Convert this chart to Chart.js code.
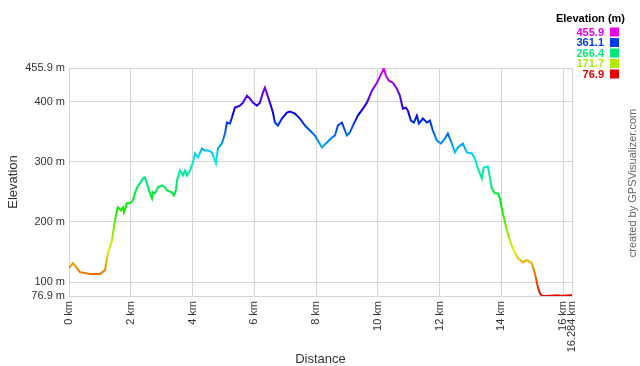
<!DOCTYPE html>
<html>
<head>
<meta charset="utf-8">
<script src="https://cdn.jsdelivr.net/npm/chart.js@4/dist/chart.umd.min.js"></script>
<style>
html,body{margin:0;padding:0;background:#fff;}
#wrap{width:640px;height:366px;position:relative;}
</style>
</head>
<body>
<div id="wrap"><canvas id="c" width="640" height="366"></canvas></div>
<script>
const distanceKm = [0,0.129,0.356,0.680,1.003,1.165,1.262,1.392,1.489,1.553,1.586,1.683,1.748,1.780,1.877,1.974,2.071,2.136,2.201,2.298,2.395,2.460,2.524,2.621,2.686,2.718,2.783,2.880,3.010,3.107,3.172,3.333,3.398,3.463,3.495,3.592,3.689,3.754,3.819,3.916,4.013,4.078,4.175,4.304,4.401,4.498,4.628,4.660,4.757,4.822,4.951,5.049,5.113,5.210,5.275,5.372,5.534,5.631,5.761,5.858,5.955,6.084,6.181,6.278,6.343,6.408,6.505,6.602,6.667,6.764,6.893,7.055,7.152,7.314,7.476,7.638,7.799,7.961,8.188,8.350,8.511,8.608,8.706,8.835,8.997,9.094,9.191,9.353,9.515,9.644,9.806,9.968,10.129,10.194,10.259,10.356,10.485,10.615,10.712,10.809,10.906,10.971,11.068,11.165,11.262,11.327,11.456,11.586,11.683,11.780,11.909,12.039,12.168,12.265,12.395,12.492,12.589,12.751,12.880,13.042,13.139,13.236,13.366,13.430,13.560,13.689,13.786,13.883,13.948,14.045,14.175,14.272,14.369,14.531,14.693,14.822,14.984,15.081,15.178,15.243,15.307,15.469,15.825,15.890,15.987,16.214,16.284];
const elevationM = [123.2,131.5,116.6,113.3,113.3,119.9,148.1,169.6,202.8,219.3,224.3,219.3,224.3,216.0,230.9,230.9,235.9,247.5,257.5,264.1,272.4,274.0,264.1,247.5,239.2,249.2,247.5,257.5,260.8,257.5,252.5,249.2,244.2,252.5,269.1,285.6,277.3,285.6,277.3,285.6,298.9,313.8,307.2,322.1,318.8,318.8,315.5,310.5,297.2,322.1,330.4,347.0,365.2,363.5,373.5,390.1,393.4,398.3,409.9,405.0,398.3,393.4,398.3,414.9,423.2,413.3,398.3,381.8,365.2,360.2,371.8,381.8,383.4,380.1,371.8,360.2,351.9,343.6,323.8,332.0,340.3,343.6,360.2,365.2,343.6,348.6,360.2,376.8,388.4,398.3,418.2,431.5,448.1,455.9,443.1,434.8,431.5,421.5,409.9,388.4,390.1,385.1,368.5,365.2,376.8,363.5,371.8,365.2,368.5,351.9,335.4,330.4,338.7,347.0,330.4,315.5,323.8,330.4,315.5,313.8,305.5,289.0,272.4,290.6,292.3,255.8,247.5,247.5,239.2,214.4,186.2,169.6,156.3,139.8,133.1,136.5,131.5,114.9,91.7,81.8,77.5,76.9,78.0,77.2,77.2,78.0,78.0];
const xTickValues = [0,2,4,6,8,10,12,14,16,16.284];
const yTickValues = [76.9,100,200,300,400,455.9];
const legendValues = [455.9,361.1,266.4,171.7,76.9];

const FONT = "'Liberation Sans', Arial, sans-serif";
const minE = 76.9, maxE = 455.9;
function colorFor(v){
  const h = 300*(v-minE)/(maxE-minE);
  return 'hsl(' + h.toFixed(1) + ',100%,46%)';
}

const extras = {
  id: 'extras',
  afterDraw(chart){
    const c = chart.ctx;
    c.save();
    c.font = 'bold 11px ' + FONT;
    c.fillStyle = '#000';
    c.textAlign = 'right';
    c.textBaseline = 'middle';
    c.fillText('Elevation (m)', 625, 19);
    const rowsY = [32,42.5,53,63.5,74];
    legendValues.forEach((v,i)=>{
      const col = colorFor(v);
      c.fillStyle = col;
      c.font = 'bold 11px ' + FONT;
      c.fillText(v.toFixed(1), 604, rowsY[i]+0.5);
      c.fillRect(610, rowsY[i]-4.5, 9, 9);
    });
    c.translate(633, 183);
    c.rotate(-Math.PI/2);
    c.textAlign = 'center';
    c.fillStyle = '#666';
    c.font = '11px ' + FONT;
    c.fillText('created by GPSVisualizer.com', 0, 0);
    c.restore();
  }
};

new Chart(document.getElementById('c'), {
  type: 'line',
  data: {
    datasets: [{
      data: distanceKm.map((d,i)=>({x:d, y:elevationM[i]})),
      borderWidth: 2,
      pointRadius: 0,
      tension: 0,
      fill: false,
      borderColor(ctx){
        const chart = ctx.chart;
        const area = chart.chartArea;
        if (!area) return '#f00';
        const ys = chart.scales.y;
        const y0 = ys.getPixelForValue(minE), y1 = ys.getPixelForValue(maxE);
        const g = chart.ctx.createLinearGradient(0, y0, 0, y1);
        for (let i=0;i<=30;i++){
          g.addColorStop(i/30, 'hsl(' + (300*i/30) + ',100%,46%)');
        }
        return g;
      }
    }]
  },
  options: {
    responsive: false,
    animation: false,
    layout: { padding: { top: 68, right: 68, left: 0, bottom: 0 } },
    plugins: { legend: { display: false }, tooltip: { enabled: false } },
    scales: {
      x: {
        type: 'linear',
        min: 0, max: 16.284,
        afterBuildTicks(s){ s.ticks = xTickValues.map(v=>({value:v})); },
        afterFit(s){ s.height = 70; },
        grid: { color: '#d6d6d6', lineWidth: 1, drawTicks: false },
        border: { color: '#d6d6d6' },
        ticks: {
          autoSkip: false, minRotation: 90, maxRotation: 90, padding: 5,
          color: '#333', font: { family: FONT, size: 11 },
          callback: v => v + ' km'
        },
        title: { display: true, text: 'Distance', color: '#333', font: { family: FONT, size: 13, lineHeight: 1 }, padding: { top: 0, bottom: 0 } }
      },
      y: {
        type: 'linear',
        min: minE, max: maxE,
        afterBuildTicks(s){ s.ticks = yTickValues.map(v=>({value:v})); },
        afterFit(s){ s.width = 69; },
        grid: { color: '#d6d6d6', lineWidth: 1, drawTicks: false },
        border: { color: '#d6d6d6' },
        ticks: {
          autoSkip: false, padding: 4,
          color: '#333', font: { family: FONT, size: 11 },
          callback: v => v + ' m'
        },
        title: { display: true, text: 'Elevation', color: '#333', font: { family: FONT, size: 13 }, padding: { top: 6, bottom: 0 } }
      }
    }
  },
  plugins: [extras]
});
</script>
</body>
</html>
